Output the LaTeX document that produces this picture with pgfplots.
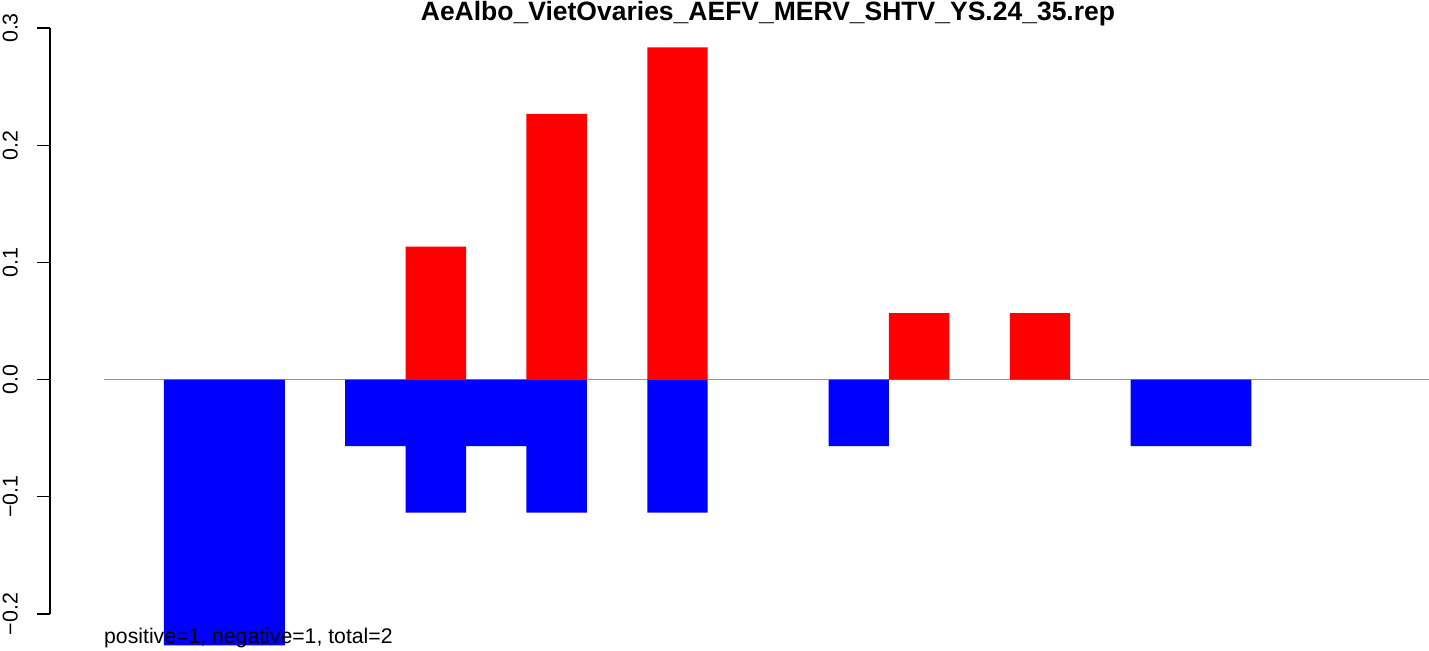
\documentclass[border=0pt]{standalone}
\usepackage{fontspec}
\setmainfont{Liberation Sans}
\usepackage{pgfplots}
\pgfplotsset{compat=1.18}
\definecolor{zerogray}{RGB}{150,150,150}
\begin{document}
\begin{tikzpicture}[x=1bp,y=1bp]
\path[use as bounding box] (0,0) rectangle (1429,651);
\begin{axis}[
  at={(50bp,37bp)}, anchor=south west,
  scale only axis, width=1379bp, height=586bp,
  xmin=-1.887, xmax=20.94, ymin=-0.2, ymax=0.3,
  clip=false,
  axis x line=none, axis y line*=left,
  axis line style={-, line width=1.3bp, black},
  every outer y axis line/.append style={-},
  ytick={-0.2,-0.1,0,0.1,0.2,0.3},
  yticklabels={−0.2,−0.1,0.0,0.1,0.2,0.3},
  tick align=outside, major tick length=13bp,
  tick style={line width=1.3bp, black},
  yticklabel style={xshift=-19bp, rotate=90, anchor=south, inner sep=0pt, font=\fontsize{21.5}{24}\selectfont},
]
\addplot[zerogray, line width=1.5bp, forget plot] coordinates {(-1,0) (21,0)};
\addplot[ybar, bar width=1, bar shift=0pt, fill=red, draw=none] coordinates {(4.5,0.1134) (6.5,0.2268) (8.5,0.2835) (12.5,0.0567) (14.5,0.0567)};
\addplot[ybar, bar width=1, bar shift=0pt, fill=blue, draw=none] coordinates {(0.5,-0.2268) (1.5,-0.2268) (3.5,-0.0567) (4.5,-0.1134) (5.5,-0.0567) (6.5,-0.1134) (8.5,-0.1134) (11.5,-0.0567) (16.5,-0.0567) (17.5,-0.0567)};
\end{axis}
\node[anchor=base, font=\fontsize{26.6}{30}\selectfont\bfseries] at (768,630) {AeAlbo\_VietOvaries\_AEFV\_MERV\_SHTV\_YS.24\_35.rep};
\node[anchor=base west, inner sep=0pt, font=\fontsize{21.3}{24}\selectfont] at (104,7) {positive=1, negative=1, total=2};
\end{tikzpicture}
\end{document}
